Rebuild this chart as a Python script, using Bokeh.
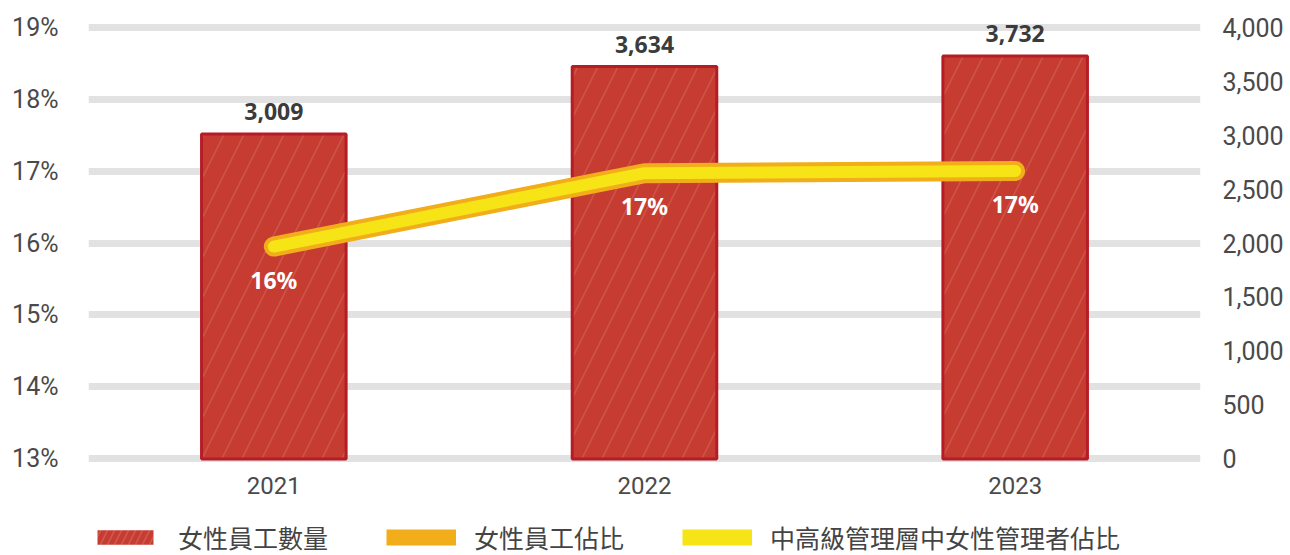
from bokeh.plotting import figure
from bokeh.layouts import column
from bokeh.models import (Range1d, LinearAxis, FactorRange, ColumnDataSource, Legend,
                          LegendItem, PrintfTickFormatter, NumeralTickFormatter, LabelSet)
from bokeh.embed import file_html
from bokeh.resources import INLINE
from bokeh.core.properties import value

years = ["2021", "2022", "2023"]
female_count = [3009, 3634, 3732]
female_ratio = [15.95, 16.97, 17.0]
mgmt_ratio = [15.95, 16.97, 17.0]
count_labels = ["3,009", "3,634", "3,732"]
ratio_labels = ["16%", "17%", "17%"]
pct_ticks = [13, 14, 15, 16, 17, 18, 19]
count_ticks = [0, 500, 1000, 1500, 2000, 2500, 3000, 3500, 4000]
legend_names = ["女性員工數量", "女性員工佔比", "中高級管理層中女性管理者佔比"]

BAR_FILL, BAR_LINE = "#c73c31", "#b51c25"
ORANGE, YELLOW = "#f1ad1a", "#f6e416"

src = ColumnDataSource(dict(year=years, count=female_count, ratio=female_ratio,
                            mratio=mgmt_ratio, clabel=count_labels, rlabel=ratio_labels))

pad = 0.05  # small margin so the 13% / 19% grid lines are not clipped
p = figure(width=1290, height=505, x_range=FactorRange(factors=years, range_padding=0),
           y_range=Range1d(13 - pad, 19 + pad), output_backend="svg", toolbar_location=None,
           min_border_left=88, min_border_right=90, min_border_top=23, min_border_bottom=43)
p.outline_line_color = None
p.background_fill_color = "white"
p.extra_y_ranges = {"cnt": Range1d(0 - pad * 4000 / 6, 4000 + pad * 4000 / 6)}

for ax in p.yaxis:
    ax.ticker = pct_ticks
    ax.formatter = PrintfTickFormatter(format="%d%%")
    ax.major_label_standoff = 30

rax = LinearAxis(y_range_name="cnt", ticker=count_ticks, formatter=NumeralTickFormatter(format="0,0"))
rax.major_label_standoff = 22
p.add_layout(rax, "right")

for ax in p.yaxis + p.xaxis:
    ax.axis_line_color = None
    ax.major_tick_line_color = None
    ax.minor_tick_line_color = None
    ax.major_tick_out = 0
    ax.major_tick_in = 0
    ax.minor_tick_out = 0
    ax.major_label_text_font = "Roboto"
    ax.major_label_text_font_size = "25px"
    ax.major_label_text_color = "#4a4a4a"
p.xaxis.major_label_standoff = 14
p.xaxis.major_label_text_font_size = "24px"

p.xgrid.visible = False
p.ygrid.ticker = pct_ticks
p.ygrid.grid_line_color = "#e2e2e2"
p.ygrid.grid_line_width = 7

p.vbar(x="year", top="count", bottom=0, width=0.39, y_range_name="cnt", source=src,
       fill_color=BAR_FILL, line_color=BAR_LINE, line_width=3,
       hatch_pattern="/", hatch_color="white", hatch_alpha=0.12, hatch_scale=40,
       hatch_weight=1.5)

p.line(x="year", y="ratio", source=src, line_color=ORANGE, line_width=20,
       line_cap="round", line_join="round")
p.line(x="year", y="mratio", source=src, line_color=YELLOW, line_width=12,
       line_cap="round", line_join="round")

p.add_layout(LabelSet(x="year", y="count", text="clabel", y_range_name="cnt", source=src,
                      y_offset=14, text_align="center", text_baseline="bottom",
                      text_font=value("Noto Sans"), text_font_style="bold",
                      text_font_size="23px", text_color="#3b3b3b"))
p.add_layout(LabelSet(x="year", y="ratio", text="rlabel", source=src,
                      y_offset=-33, text_align="center", text_baseline="middle",
                      text_font=value("Noto Sans"), text_font_style="bold",
                      text_font_size="23px", text_color="white"))

# legend strip below the chart; its renderers use the same data but lie far below its view
lg = figure(width=1290, height=50, x_range=FactorRange(factors=years, range_padding=0),
            y_range=Range1d(100000, 100010), output_backend="svg", toolbar_location=None,
            min_border_left=0, min_border_right=0, min_border_top=0, min_border_bottom=0)
lg.axis.visible = False
lg.grid.visible = False
lg.outline_line_color = None
r_bar = lg.vbar(x="year", top="count", bottom=0, width=0.39, source=src, fill_color=BAR_FILL,
                line_color=None, hatch_pattern="/", hatch_color="white",
                hatch_alpha=0.15, hatch_scale=14, hatch_weight=1.5)
r_or = lg.line(x="year", y="ratio", source=src, line_color=ORANGE, line_width=16)
r_ye = lg.line(x="year", y="mratio", source=src, line_color=YELLOW, line_width=16)

legend = Legend(items=[LegendItem(label=legend_names[0], renderers=[r_bar]),
                       LegendItem(label=legend_names[1], renderers=[r_or]),
                       LegendItem(label=legend_names[2], renderers=[r_ye])],
                orientation="horizontal", location=(2, 0))
legend.padding = 0
legend.margin = 0
legend.spacing = 58
legend.glyph_width = 70
legend.glyph_height = 18
legend.label_standoff = 18
legend.label_text_font = "Noto Sans CJK TC"
legend.label_text_font_size = "25px"
legend.label_text_color = "#444444"
legend.border_line_color = None
legend.background_fill_alpha = 0
lg.add_layout(legend)

layout = column(p, lg, spacing=0)
open("out.html", "w").write(file_html(layout, INLINE))
